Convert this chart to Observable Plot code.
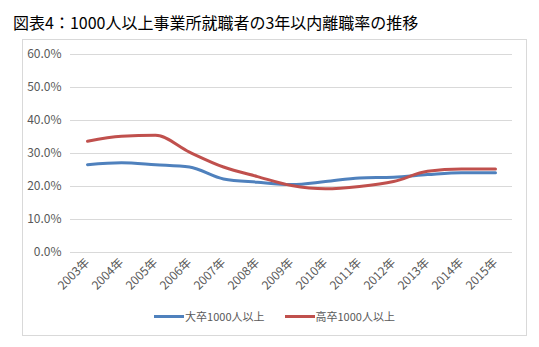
<!DOCTYPE html>
<html><head><meta charset="utf-8">
<script src="https://cdn.jsdelivr.net/npm/d3@7"></script>
<script src="https://cdn.jsdelivr.net/npm/@observablehq/plot@0.6"></script>
<style>
body{margin:0;background:#fff;font-family:"Noto Sans CJK JP","Noto Sans",sans-serif;}
#title{position:absolute;left:13px;top:11px;font-size:16px;line-height:22px;color:#000;white-space:nowrap;}
#box{position:absolute;left:22px;top:39px;width:503px;height:295px;border:1px solid #d9d9d9;}
#chart{position:absolute;left:0;top:0;}
#legend{position:absolute;left:0;top:268px;width:503px;display:flex;justify-content:center;gap:20px;font-size:11px;color:#595959;}
.item{display:flex;align-items:center;}
.sw{width:30px;height:3px;margin-right:1px;}
</style></head><body>
<div id="title">図表4：1000人以上事業所就職者の3年以内離職率の推移</div>
<div id="box"><div id="chart"></div><div id="legend"></div></div>
<script>
const years = ["2003年","2004年","2005年","2006年","2007年","2008年","2009年","2010年","2011年","2012年","2013年","2014年","2015年"];
const univ = [26.6, 27.2, 26.6, 25.9, 22.3, 21.3, 20.6, 21.5, 22.6, 22.8, 23.6, 24.2, 24.2];
const high = [33.7, 35.2, 35.5, 30.4, 25.9, 23.0, 20.3, 19.3, 20.0, 21.5, 24.6, 25.3, 25.3];
const seriesNames = ["大卒1000人以上", "高卒1000人以上"];
const colors = ["#4F81BD", "#C0504D"];
const yTicks = [0, 10, 20, 30, 40, 50, 60];

const data = [];
years.forEach((y, i) => {
  data.push({year: y, value: univ[i], series: seriesNames[0]});
  data.push({year: y, value: high[i], series: seriesNames[1]});
});

const chart = Plot.plot({
  width: 503, height: 262,
  marginLeft: 47, marginRight: 14, marginTop: 14, marginBottom: 50,
  style: {fontFamily: '"Noto Sans CJK JP","Noto Sans",sans-serif', fontSize: "12px", color: "#595959", background: "transparent"},
  x: {type: "point", domain: years, padding: 0.5, label: null},
  y: {domain: [0, 60], label: null},
  color: {domain: seriesNames, range: colors},
  marks: [
    Plot.gridY(yTicks, {stroke: "#d9d9d9", strokeOpacity: 1, strokeWidth: 1}),
    Plot.axisY(yTicks, {tickSize: 0, tickPadding: 9, tickFormat: d => d.toFixed(1) + "%", label: null, fill: "#595959"}),
    Plot.axisX({tickSize: 0, tickRotate: -45, tickPadding: 8, label: null, fill: "#595959"}),
    Plot.line(data, {x: "year", y: "value", z: "series", stroke: "series", strokeWidth: 3, curve: "monotone-x", strokeLinejoin: "round", strokeLinecap: "round"})
  ]
});
document.getElementById("chart").appendChild(chart);

const legend = document.getElementById("legend");
seriesNames.forEach((n, i) => {
  const it = document.createElement("div");
  it.className = "item";
  it.innerHTML = `<span class="sw" style="background:${colors[i]}"></span><span>${n}</span>`;
  legend.appendChild(it);
});
</script>
</body></html>
